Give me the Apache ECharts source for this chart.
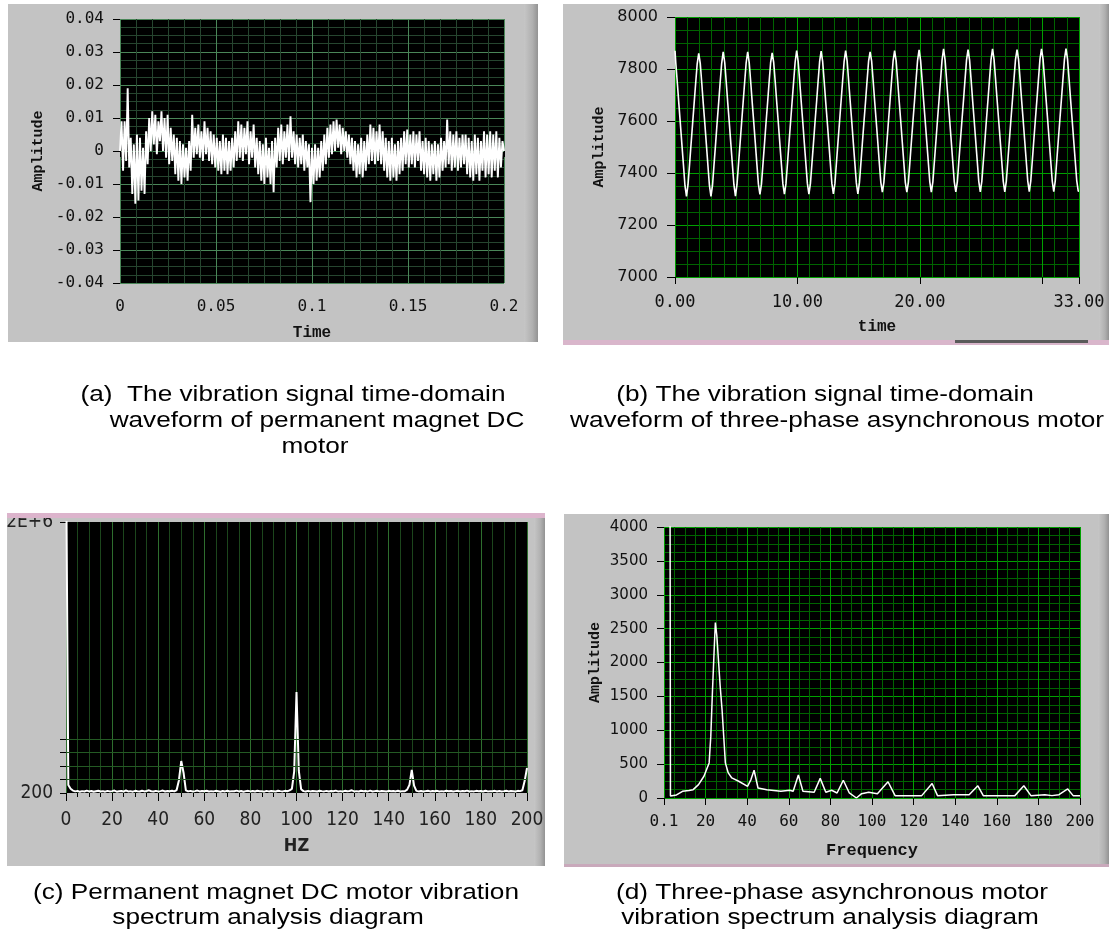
<!DOCTYPE html>
<html><head><meta charset="utf-8">
<script src="https://cdn.jsdelivr.net/npm/echarts@6/dist/echarts.min.js"></script>
<style>html,body{margin:0;padding:0;background:#fff}#c{width:1109px;height:946px}</style>
</head><body><div id="c"></div><script>
// ---------- (a) PM DC motor time-domain signal ----------
const aStep = 0.0008; // sample spacing (s)
const aAmp = [
 0.000, 0.009,-0.006, 0.009,-0.003, 0.019,-0.005, 0.004,-0.013, 0.002,
-0.016, 0.005,-0.015, 0.004,-0.012, 0.001,-0.013, 0.006,-0.004, 0.010,
 0.000, 0.012, 0.002, 0.011,-0.001, 0.009, 0.003, 0.012, 0.000, 0.010,
-0.002, 0.011,-0.004, 0.007,-0.003, 0.005,-0.007, 0.004,-0.009, 0.003,
-0.010, 0.002,-0.008, 0.001,-0.009, 0.003,-0.006, 0.011,-0.002, 0.007,
-0.001, 0.008,-0.002, 0.006,-0.003, 0.009,-0.001, 0.007,-0.003, 0.006,
-0.004, 0.005,-0.005, 0.004,-0.006, 0.003,-0.007, 0.005,-0.006, 0.004,
-0.007, 0.003,-0.006, 0.004,-0.005, 0.006,-0.003, 0.009,-0.002, 0.008,
-0.003, 0.007,-0.001, 0.009,-0.004, 0.006,-0.002, 0.008,-0.005, 0.004,
-0.007, 0.003,-0.009, 0.002,-0.010, 0.004,-0.008, 0.001,-0.010, 0.003,
-0.0125,0.004,-0.005, 0.007,-0.003, 0.008,-0.004, 0.006,-0.002, 0.008,
-0.003, 0.0105,-0.002,0.006,-0.004, 0.005,-0.005, 0.004,-0.004, 0.005,
-0.006, 0.003,-0.005, 0.002,-0.0155,0.001,-0.010, 0.002,-0.009, 0.001,
-0.008, 0.003,-0.006, 0.005,-0.004, 0.007,-0.002, 0.008,-0.001, 0.009,
 0.000, 0.0095,0.001, 0.008,-0.001, 0.007, 0.000, 0.006,-0.002, 0.005,
-0.004, 0.004,-0.006, 0.003,-0.008, 0.002,-0.007, 0.004,-0.008, 0.003,
-0.006, 0.005,-0.004, 0.008,-0.003, 0.007,-0.004, 0.006,-0.003, 0.008,
-0.004, 0.006,-0.006, 0.004,-0.008, 0.003,-0.009, 0.004,-0.008, 0.002,
-0.009, 0.003,-0.007, 0.004,-0.006, 0.006,-0.004, 0.0065,-0.005,0.005,
-0.004, 0.006,-0.005, 0.005,-0.003, 0.006,-0.006, 0.003,-0.007, 0.004,
-0.008, 0.003,-0.009, 0.002,-0.007, 0.003,-0.009, 0.002,-0.008, 0.004,
-0.006, 0.003,-0.005, 0.0095,-0.004,0.006,-0.006, 0.005,-0.005, 0.006,
-0.006, 0.004,-0.005, 0.005,-0.004, 0.005,-0.007, 0.004,-0.008, 0.003,
-0.009, 0.005,-0.007, 0.004,-0.009, 0.003,-0.006, 0.006,-0.008, 0.005,
-0.007, 0.006,-0.008, 0.005,-0.006, 0.006,-0.008, 0.004,-0.005, 0.003,
 0.000
];
// ---------- (b) three-phase motor time-domain signal ----------
const bStep = 0.125;
const bAmp = [
7870,7825,7748,7668,7590,7510,7432,7352,7310,7355,7432,7512,7590,7668,7745,7820,
7860,7822,7745,7665,7590,7510,7430,7352,7310,7352,7432,7510,7592,7668,7748,7822,
7866,7825,7748,7668,7592,7512,7432,7355,7311,7355,7434,7512,7592,7670,7748,7824,
7866,7824,7748,7668,7592,7514,7434,7357,7318,7357,7436,7514,7594,7670,7750,7825,
7862,7825,7750,7670,7594,7514,7436,7358,7319,7358,7436,7516,7594,7672,7750,7826,
7871,7828,7752,7672,7596,7516,7438,7360,7319,7360,7438,7516,7596,7672,7752,7828,
7869,7828,7752,7672,7596,7518,7438,7360,7320,7360,7440,7518,7596,7674,7752,7828,
7871,7830,7752,7674,7598,7518,7440,7362,7320,7362,7440,7520,7598,7674,7754,7830,
7866,7830,7754,7674,7598,7520,7440,7364,7326,7364,7442,7520,7600,7676,7754,7830,
7871,7832,7754,7676,7600,7520,7442,7364,7326,7364,7442,7522,7600,7676,7756,7832,
7874,7832,7756,7676,7600,7522,7444,7366,7326,7366,7444,7522,7602,7678,7756,7834,
7877,7834,7756,7678,7602,7524,7444,7366,7327,7366,7446,7524,7602,7678,7758,7834,
7875,7834,7758,7678,7602,7524,7446,7368,7327,7368,7446,7524,7604,7680,7758,7836,
7877,7836,7758,7680,7604,7526,7446,7368,7327,7368,7448,7526,7604,7680,7760,7836,
7875,7836,7760,7680,7604,7526,7448,7370,7328,7370,7448,7528,7606,7682,7760,7838,
7877,7838,7760,7682,7606,7528,7448,7370,7328,7370,7450,7528,7606,7682,7760,7838,
7878,7838,7762,7682,7606,7528,7450,7372,7330
];
const bXTickLabels = {0:'0.00',10:'10.00',20:'20.00',33:'33.00'};
// ---------- (c) PM DC motor spectrum ----------
const cStep = 1; // Hz per bin
const cAmp = [
2600000,60000,32000,18000,12000,16000,9000,14000,11000,18000,
12000,15000,9000,13000,17000,11000,14000,10000,16000,12000,
14000,18000,10000,13000,15000,11000,19000,12000,14000,10000,
16000,13000,11000,17000,12000,15000,20000,13000,11000,16000,
12000,14000,18000,11000,15000,13000,17000,12000,22000,95000,
236000,150000,20000,12000,16000,11000,14000,18000,12000,15000,
13000,17000,11000,14000,12000,16000,13000,10000,15000,12000,
17000,11000,14000,13000,18000,12000,15000,10000,14000,16000,
12000,15000,11000,17000,13000,14000,10000,16000,12000,15000,
13000,11000,17000,14000,12000,16000,13000,20000,30000,160000,
745000,165000,28000,14000,11000,16000,12000,15000,13000,11000,
17000,14000,12000,16000,11000,15000,13000,18000,12000,14000,
11000,16000,13000,15000,20000,12000,14000,11000,17000,13000,
15000,12000,18000,11000,14000,16000,12000,15000,13000,11000,
16000,13000,15000,12000,17000,11000,14000,13000,25000,60000,
170000,55000,16000,12000,15000,11000,14000,17000,12000,15000,
13000,16000,11000,14000,12000,17000,13000,15000,11000,14000,
16000,12000,15000,13000,18000,11000,14000,12000,16000,13000,
15000,11000,17000,12000,14000,13000,16000,11000,15000,12000,
14000,17000,12000,15000,13000,11000,16000,14000,20000,90000,
185000
];
const cYTicks = [200,100000,200000,300000,400000,2000000];
const cYLabelVals = [200,2000000];
const cMinorGrid = [100000,200000,300000,400000];
// ---------- (d) three-phase motor spectrum ----------
const dFreq = [2.9,3.1,6,8.9,12,14,16.6,19.2,21.7,22.5,23.3,24.2,24.7,25.4,26.2,27.0,27.9,28.7,29.5,30.9,32.6,35.9,40.2,41.8,43.3,45.2,49.4,56.2,60.4,62.1,64.6,66.8,72.2,75.1,77.8,80.6,83.2,86.2,89.1,92.5,95.0,98.4,102.6,107.7,111.1,117,123.9,128.9,131.5,139.1,146.7,150.9,153.5,168.7,173,176.4,183.1,186.5,189.9,194.1,196.7,200];
const dAmp  = [4600,30,45,99,110,123,197,321,518,913,1580,2247,2590,2395,2025,1654,1309,914,519,370,296,247,173,272,410,148,123,99,114,99,340,99,84,290,84,114,74,262,74,0,64,84,64,240,35,35,35,215,35,49,49,180,35,35,180,35,49,35,49,133,35,35];

const MONO = '"DejaVu Sans Mono", monospace';
const SANS = '"DejaVu Sans", sans-serif';
const NARROW = '"Liberation Sans Narrow", "DejaVu Sans Condensed", "Arial Narrow", sans-serif';
const NAMEF = '"Liberation Mono", "DejaVu Sans Mono", monospace';
const CAPF = '22px "Liberation Sans", Arial, sans-serif';

const chart = echarts.init(document.getElementById('c'));
const G = echarts.graphic;
function bevel(x, y, w, h) {
  return {type:'rect', z:-99, shape:{x, y, width:w, height:h},
    style:{fill:new G.LinearGradient(0,0,1,0,[{offset:0,color:'#c6c6c6'},{offset:0.6,color:'#b0b0b0'},{offset:1,color:'#939393'}])}};
}
function cap(text, x, y) {
  return {type:'text', x, y, scaleX:1.19, z:10,
    style:{text, font:CAPF, fill:'#000', textAlign:'center', textVerticalAlign:'middle', align:'center', verticalAlign:'middle'}};
}
const tick = (len) => ({show:true, length:len, lineStyle:{color:'#000', width:1}});
const plain = (v) => String(v);

const option = {
  animation:false,
  backgroundColor:'#fff',
  graphic:{elements:[
    {type:'rect', z:-100, shape:{x:8,y:4,width:530,height:338}, style:{fill:'#c3c3c3'}},
    bevel(524,4,14,338),
    {type:'rect', z:-100, shape:{x:563,y:4,width:546,height:336}, style:{fill:'#c3c3c3'}},
    bevel(1099,4,10,336),
    {type:'rect', z:100, shape:{x:563,y:340,width:546,height:5}, style:{fill:'#d9b6cb'}},
    {type:'rect', z:101, shape:{x:955,y:340,width:133,height:3}, style:{fill:'#5a5a5a'}},
    {type:'rect', z:-100, shape:{x:7,y:514,width:538,height:352}, style:{fill:'#c3c3c3'}},
    bevel(534,514,11,352),
    {type:'rect', z:100, shape:{x:7,y:513,width:538,height:5}, style:{fill:'#dcb4cc'}},
    {type:'rect', z:-100, shape:{x:564,y:514,width:545,height:352}, style:{fill:'#c3c3c3'}},
    bevel(1098,514,11,352),
    {type:'rect', z:100, shape:{x:564,y:864,width:545,height:3}, style:{fill:'#c9a9bb'}},
    cap('(a)  The vibration signal time-domain', 293, 395),
    cap('waveform of permanent magnet DC', 317, 421),
    cap('motor', 315, 447),
    cap('(b) The vibration signal time-domain', 825, 395),
    cap('waveform of three-phase asynchronous motor', 837, 421),
    cap('(c) Permanent magnet DC motor vibration', 276, 893),
    cap('spectrum analysis diagram', 268, 918),
    cap('(d) Three-phase asynchronous motor', 832, 893),
    cap('vibration spectrum analysis diagram', 830, 918)
  ]},
  grid:[
    {left:120, top:19, width:384, height:264, show:true, backgroundColor:'#000', borderWidth:0},
    {left:675, top:17, width:404, height:260, show:true, backgroundColor:'#000', borderWidth:0},
    {left:66, top:522, width:461, height:271, show:true, backgroundColor:'#000', borderWidth:0},
    {left:664, top:527, width:416, height:271, show:true, backgroundColor:'#000', borderWidth:0}
  ],
  xAxis:[
    {type:'value', gridIndex:0, position:'bottom', min:0, max:0.2, interval:0.05,
      axisLine:{show:false}, axisTick:tick(6),
      splitLine:{show:true, lineStyle:{color:'#4a8658', width:1}},
      minorTick:{show:false, splitNumber:6}, minorSplitLine:{show:true, lineStyle:{color:'#26452f', width:1}},
      axisLabel:{margin:16, fontFamily:MONO, fontSize:16, color:'#111'},
      name:'Time', nameLocation:'middle', nameGap:42, nameTextStyle:{fontFamily:NAMEF, fontWeight:'bold', fontSize:16, color:'#111'}},
    {type:'value', gridIndex:1, position:'bottom', offset:0, min:0, max:33, interval:1, z:0,
      axisLine:{show:false}, axisTick:{show:false}, axisLabel:{show:false},
      splitLine:{show:true, lineStyle:{color:'#006400', width:1}}},
    {type:'value', gridIndex:1, position:'bottom', offset:0, min:0, max:33, interval:10, z:1,
      axisLine:{show:false}, axisTick:tick(7),
      splitLine:{show:true, lineStyle:{color:'#00a000', width:1}},
      axisLabel:{margin:17, fontFamily:MONO, fontSize:17, color:'#111', formatter:(v)=> bXTickLabels[v] !== undefined ? bXTickLabels[v] : ''},
      name:'time', nameLocation:'middle', nameGap:42, nameTextStyle:{fontFamily:NAMEF, fontWeight:'bold', fontSize:16, color:'#111'}},
    {type:'value', gridIndex:2, position:'bottom', min:0, max:200, interval:20,
      axisLine:{show:false}, axisTick:tick(8),
      minorTick:{show:true, splitNumber:4, length:4, lineStyle:{color:'#000'}},
      splitLine:{show:true, lineStyle:{color:'#2e6e2e', width:1}},
      minorSplitLine:{show:true, lineStyle:{color:'#1c461c', width:1}},
      axisLabel:{margin:18, fontFamily:NARROW, fontSize:19, color:'#222'},
      name:'HZ', nameLocation:'middle', nameGap:44, nameTextStyle:{fontFamily:NARROW, fontWeight:'bold', fontSize:18, color:'#222'}},
    {type:'value', gridIndex:3, position:'bottom', min:0, max:200, interval:20,
      axisLine:{show:false}, axisTick:tick(7),
      splitLine:{show:true, lineStyle:{color:'#00a000', width:1}},
      minorTick:{show:false, splitNumber:4}, minorSplitLine:{show:true, lineStyle:{color:'#006400', width:1}},
      axisLabel:{margin:16, fontFamily:MONO, fontSize:16, color:'#111', formatter:(v)=> v===0 ? '0.1' : String(v)},
      name:'Frequency', nameLocation:'middle', nameGap:44, nameTextStyle:{fontFamily:NAMEF, fontWeight:'bold', fontSize:17, color:'#111'}}
  ],
  yAxis:[
    {type:'value', gridIndex:0, position:'left', min:-0.04, max:0.04, interval:0.01,
      axisLine:{show:false}, axisTick:tick(7),
      splitLine:{show:true, lineStyle:{color:'#4a8658', width:1}},
      minorTick:{show:false, splitNumber:4}, minorSplitLine:{show:true, lineStyle:{color:'#26452f', width:1}},
      axisLabel:{margin:16, fontFamily:MONO, fontSize:16, color:'#111', formatter:(v)=> Math.abs(v)<1e-9 ? '0' : v.toFixed(2)},
      name:'Amplitude', nameLocation:'middle', nameGap:74, nameTextStyle:{fontFamily:NAMEF, fontWeight:'bold', fontSize:15, color:'#111'}},
    {type:'value', gridIndex:1, position:'left', min:7000, max:8000, interval:200,
      axisLine:{show:false}, axisTick:tick(8),
      splitLine:{show:true, lineStyle:{color:'#00a000', width:1}},
      minorTick:{show:false, splitNumber:4}, minorSplitLine:{show:true, lineStyle:{color:'#006400', width:1}},
      axisLabel:{margin:17, fontFamily:SANS, fontSize:16, color:'#111', formatter:plain},
      name:'Amplitude', nameLocation:'middle', nameGap:68, nameTextStyle:{fontFamily:NAMEF, fontWeight:'bold', fontSize:15, color:'#111'}},
    {type:'value', gridIndex:2, position:'left', min:200, max:2000000,
      axisLine:{show:false},
      axisTick:{show:true, length:6, lineStyle:{color:'#000'}, customValues:cYTicks},
      splitLine:{show:false},
      axisLabel:{margin:13, fontFamily:NARROW, fontSize:19, color:'#222', customValues:cYLabelVals,
        formatter:(v)=> v>=2000000 ? '2E+6' : String(v)}},
    {type:'value', gridIndex:3, position:'left', min:0, max:4000, interval:500,
      axisLine:{show:false}, axisTick:tick(7),
      splitLine:{show:true, lineStyle:{color:'#00a000', width:1}},
      minorTick:{show:false, splitNumber:4}, minorSplitLine:{show:true, lineStyle:{color:'#006400', width:1}},
      axisLabel:{margin:16, fontFamily:SANS, fontSize:15, color:'#111', formatter:plain},
      name:'Amplitude', nameLocation:'middle', nameGap:61, nameTextStyle:{fontFamily:NAMEF, fontWeight:'bold', fontSize:15, color:'#111'}}
  ],
  series:[
    {type:'line', xAxisIndex:0, yAxisIndex:0, showSymbol:false, silent:true,
      lineStyle:{color:'#fff', width:1.9}, data:aAmp.map((v,i)=>[i*aStep, v])},
    {type:'line', xAxisIndex:2, yAxisIndex:1, showSymbol:false, silent:true, step:'middle',
      lineStyle:{color:'#fff', width:1.6}, data:bAmp.map((v,i)=>[i*bStep, v])},
    {type:'line', xAxisIndex:3, yAxisIndex:2, showSymbol:false, silent:true,
      lineStyle:{color:'#fff', width:2}, data:cAmp.map((v,i)=>[i*cStep, v]),
      markLine:{silent:true, symbol:'none', label:{show:false}, animation:false,
        lineStyle:{color:'#245a24', type:'solid', width:1}, data:cMinorGrid.map(v=>({yAxis:v}))}},
    {type:'line', xAxisIndex:4, yAxisIndex:3, showSymbol:false, silent:true,
      lineStyle:{color:'#fff', width:1.5}, data:dFreq.map((f,i)=>[f, dAmp[i]])}
  ]
};
chart.setOption(option);
</script></body></html>
